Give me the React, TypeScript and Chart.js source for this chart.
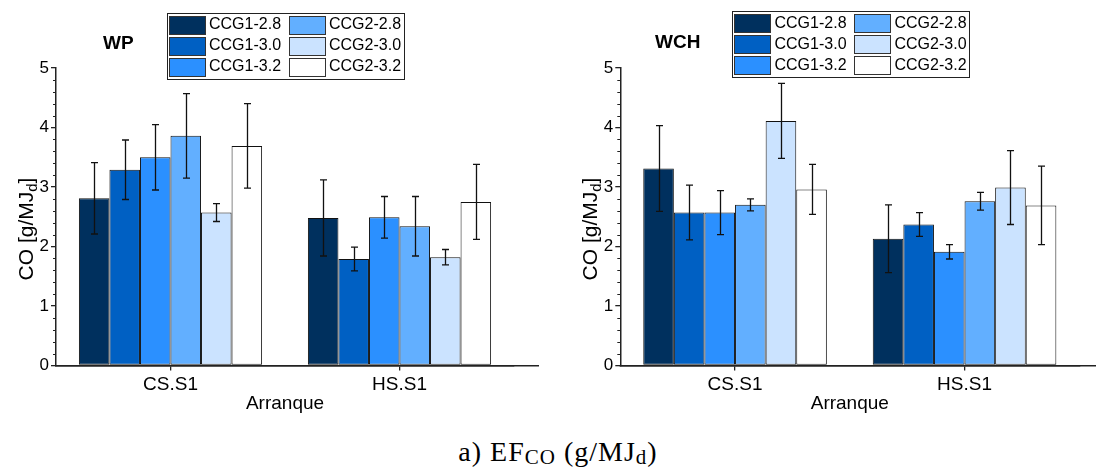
import React, { useEffect, useRef } from 'react';
import { Chart, registerables } from 'chart.js';

Chart.register(...registerables);

const FONT = '"Liberation Sans", Arial, Helvetica, sans-serif';

// ---------- data ----------
const categories = ['CS.S1', 'HS.S1'];
const seriesLabels = ['CCG1-2.8', 'CCG1-3.0', 'CCG1-3.2', 'CCG2-2.8', 'CCG2-3.0', 'CCG2-3.2'];
const seriesColors = ['#00305E', '#0060C3', '#2B90FF', '#62AFFF', '#CBE3FF', '#FFFFFF'];
const yTickValues = [0, 1, 2, 3, 4, 5];
const xTitle = 'Arranque';

// WP panel (values per series, in seriesLabels order)
const wpCS = [2.81, 3.29, 3.5, 3.86, 2.57, 3.69];
const wpCSErr = [0.6, 0.5, 0.55, 0.71, 0.15, 0.71];
const wpHS = [2.48, 1.79, 2.49, 2.34, 1.82, 2.75];
const wpHSErr = [0.64, 0.2, 0.35, 0.5, 0.13, 0.63];

// WCH panel
const wchCS = [3.31, 2.57, 2.57, 2.7, 4.11, 2.96];
const wchCSErr = [0.72, 0.46, 0.37, 0.1, 0.63, 0.42];
const wchHS = [2.13, 2.37, 1.91, 2.76, 2.99, 2.69];
const wchHSErr = [0.57, 0.2, 0.12, 0.15, 0.62, 0.66];

// ---------- layout config ----------
type PanelCfg = {
  title: string;
  titleX: number;
  titleY: number;
  axisLeft: number;
  padRight: number;
  axisExtend: number;
  legendX: number;
  legendY: number;
  cs: number[];
  csErr: number[];
  hs: number[];
  hsErr: number[];
};

const CANVAS_W = 548;
const CANVAS_H = 420;
const PLOT_TOP = 68;
const PLOT_BOTTOM = 365.5;

const wpCfg: PanelCfg = {
  title: 'WP',
  titleX: 103,
  titleY: 44,
  axisLeft: 56,
  padRight: 34,
  axisExtend: 25,
  legendX: 166.5,
  legendY: 12.5,
  cs: wpCS,
  csErr: wpCSErr,
  hs: wpHS,
  hsErr: wpHSErr,
};

const wchCfg: PanelCfg = {
  title: 'WCH',
  titleX: 107,
  titleY: 43,
  axisLeft: 72.3,
  padRight: 16.7,
  axisExtend: 25,
  legendX: 184,
  legendY: 11,
  cs: wchCS,
  csErr: wchCSErr,
  hs: wchHS,
  hsErr: wchHSErr,
};

const decorPlugin = {
  id: 'decor',
  afterDatasetsDraw(chart: any, _args: any, opts: any) {
    const ctx = chart.ctx as CanvasRenderingContext2D;
    const ys = chart.scales.y;
    ctx.save();
    ctx.strokeStyle = '#111';
    ctx.lineWidth = 1.3;
    chart.data.datasets.forEach((ds: any, i: number) => {
      const meta = chart.getDatasetMeta(i);
      meta.data.forEach((el: any, j: number) => {
        const v = ds.data[j];
        const e = opts.errors[j][i];
        const x = Math.round(el.x) + 0.5;
        const yt = ys.getPixelForValue(v + e);
        const yb = ys.getPixelForValue(v - e);
        ctx.beginPath();
        ctx.moveTo(x, yt);
        ctx.lineTo(x, yb);
        ctx.moveTo(x - 3.5, yt);
        ctx.lineTo(x + 3.5, yt);
        ctx.moveTo(x - 3.5, yb);
        ctx.lineTo(x + 3.5, yb);
        ctx.stroke();
      });
    });
    ctx.restore();
  },
  afterDraw(chart: any, _args: any, opts: any) {
    const ctx = chart.ctx as CanvasRenderingContext2D;
    const { left, right, bottom } = chart.chartArea;
    const ys = chart.scales.y;
    ctx.save();

    // minor ticks on y
    ctx.strokeStyle = '#222';
    ctx.lineWidth = 1;
    const steps = Math.round((ys.max - ys.min) * 5);
    for (let k = 0; k <= steps; k++) {
      if (k % 5 === 0) continue;
      const v = ys.min + k * 0.2;
      const py = Math.round(ys.getPixelForValue(v)) + 0.5;
      ctx.beginPath();
      ctx.moveTo(left - 3, py);
      ctx.lineTo(left, py);
      ctx.stroke();
    }

    // x axis line (over bars, extended)
    ctx.lineWidth = 1.5;
    ctx.strokeStyle = '#222';
    const ay = Math.round(bottom - 0.75) + 0.75;
    ctx.beginPath();
    ctx.moveTo(left - 0.75, ay);
    ctx.lineTo(right + opts.axisExtend, ay);
    ctx.stroke();

    // y title with subscript
    ctx.fillStyle = '#000';
    const mainFont = `21px ${FONT}`;
    const subFont = `15px ${FONT}`;
    const p1 = 'CO [g/MJ';
    const p2 = 'd';
    const p3 = ']';
    ctx.font = mainFont;
    const w1 = ctx.measureText(p1).width;
    const w3 = ctx.measureText(p3).width;
    ctx.font = subFont;
    const w2 = ctx.measureText(p2).width;
    const total = w1 + w2 + w3;
    const cy = 229;
    ctx.translate(left - 23, cy);
    ctx.rotate(-Math.PI / 2);
    ctx.textBaseline = 'alphabetic';
    ctx.textAlign = 'left';
    let tx = -total / 2;
    ctx.font = mainFont;
    ctx.fillText(p1, tx, 0);
    tx += w1;
    ctx.font = subFont;
    ctx.fillText(p2, tx, 4);
    tx += w2;
    ctx.font = mainFont;
    ctx.fillText(p3, tx, 0);
    ctx.setTransform(1, 0, 0, 1, 0, 0);

    // panel title
    ctx.font = `bold 19px ${FONT}`;
    ctx.textBaseline = 'middle';
    ctx.textAlign = 'left';
    ctx.fillText(opts.title, opts.titleX, opts.titleY);

    // legend (3 rows x 2 columns, column-major)
    const lx = opts.legendX;
    const ly = opts.legendY;
    const boxW = 237;
    const boxH = 66;
    ctx.fillStyle = '#fff';
    ctx.fillRect(lx, ly, boxW, boxH);
    ctx.strokeStyle = '#222';
    ctx.lineWidth = 1;
    ctx.strokeRect(Math.round(lx) + 0.5, Math.round(ly) + 0.5, boxW, boxH);
    ctx.font = `16px ${FONT}`;
    chart.data.datasets.forEach((ds: any, i: number) => {
      const col = Math.floor(i / 3);
      const row = i % 3;
      const sx = Math.round(lx + 2 + col * 120) + 0.5;
      const rcy = ly + 12 + row * 21;
      const sy = Math.round(rcy - 9) + 0.5;
      ctx.fillStyle = ds.backgroundColor;
      ctx.fillRect(sx, sy, 36, 18);
      ctx.strokeStyle = '#333';
      ctx.strokeRect(sx, sy, 36, 18);
      ctx.fillStyle = '#000';
      ctx.fillText(ds.label, lx + 42.5 + col * 120, rcy + 0.5);
    });

    ctx.restore();
  },
};

function Panel({ cfg, left }: { cfg: PanelCfg; left: number }) {
  const ref = useRef<HTMLCanvasElement | null>(null);
  useEffect(() => {
    if (!ref.current) return;
    const datasets = seriesLabels.map((label, i) => ({
      label,
      data: [cfg.cs[i], cfg.hs[i]],
      backgroundColor: seriesColors[i],
      borderColor: '#111',
      borderWidth: 1,
      borderSkipped: false,
      categoryPercentage: 0.8,
      barPercentage: 1.0,
    }));
    const errors = [cfg.csErr, cfg.hsErr];
    const chart = new Chart(ref.current, {
      type: 'bar',
      data: { labels: categories, datasets },
      plugins: [decorPlugin as any],
      options: {
        responsive: false,
        animation: false,
        devicePixelRatio: 1,
        layout: { padding: { left: 0, top: PLOT_TOP, right: cfg.padRight, bottom: 0 } },
        plugins: {
          legend: { display: false },
          tooltip: { enabled: false },
          decor: {
            errors,
            title: cfg.title,
            titleX: cfg.titleX,
            titleY: cfg.titleY,
            legendX: cfg.legendX,
            legendY: cfg.legendY,
            axisExtend: cfg.axisExtend,
          },
        } as any,
        scales: {
          x: {
            type: 'category',
            offset: true,
            grid: {
              offset: false,
              drawOnChartArea: false,
              drawTicks: true,
              tickLength: 5,
              color: '#222',
              lineWidth: 1.3,
            },
            border: { display: true, color: '#222', width: 1.5 },
            ticks: { font: { size: 19, family: FONT }, color: '#000', padding: 3, maxRotation: 0 },
            title: {
              display: true,
              text: xTitle,
              font: { size: 19, family: FONT },
              color: '#000',
              padding: { top: 0, bottom: 5 },
            },
            afterFit: (s: any) => {
              s.height = CANVAS_H - PLOT_BOTTOM;
            },
          },
          y: {
            type: 'linear',
            min: 0,
            max: 5,
            grid: {
              drawOnChartArea: false,
              drawTicks: true,
              tickLength: 5,
              color: '#222',
              lineWidth: 1.3,
            },
            border: { display: true, color: '#222', width: 1.5 },
            ticks: { font: { size: 17, family: FONT }, color: '#000', padding: 2 },
            afterBuildTicks: (s: any) => {
              s.ticks = yTickValues.map((v) => ({ value: v }));
            },
            afterFit: (s: any) => {
              s.width = cfg.axisLeft;
            },
          },
        } as any,
      },
    });
    return () => chart.destroy();
  }, [cfg]);
  return (
    <canvas
      ref={ref}
      width={CANVAS_W}
      height={CANVAS_H}
      style={{ position: 'absolute', left, top: 0, width: CANVAS_W, height: CANVAS_H }}
    />
  );
}

export default function App() {
  const subStyle: React.CSSProperties = { fontSize: 21, position: 'relative', top: 3 };
  return (
    <div
      style={{
        position: 'fixed',
        left: 0,
        top: 0,
        width: 1096,
        height: 468,
        background: '#fff',
        overflow: 'hidden',
      }}
    >
      <Panel cfg={wpCfg} left={0} />
      <Panel cfg={wchCfg} left={548} />
      <div
        style={{
          position: 'absolute',
          left: 358,
          width: 400,
          top: 437,
          textAlign: 'center',
          fontFamily: '"Liberation Serif", "Times New Roman", serif',
          fontSize: 28,
          letterSpacing: 1,
          lineHeight: '30px',
          color: '#000',
          whiteSpace: 'nowrap',
        }}
      >
        a) EF<span style={subStyle}>CO</span> (g/MJ<span style={subStyle}>d</span>)
      </div>
    </div>
  );
}
